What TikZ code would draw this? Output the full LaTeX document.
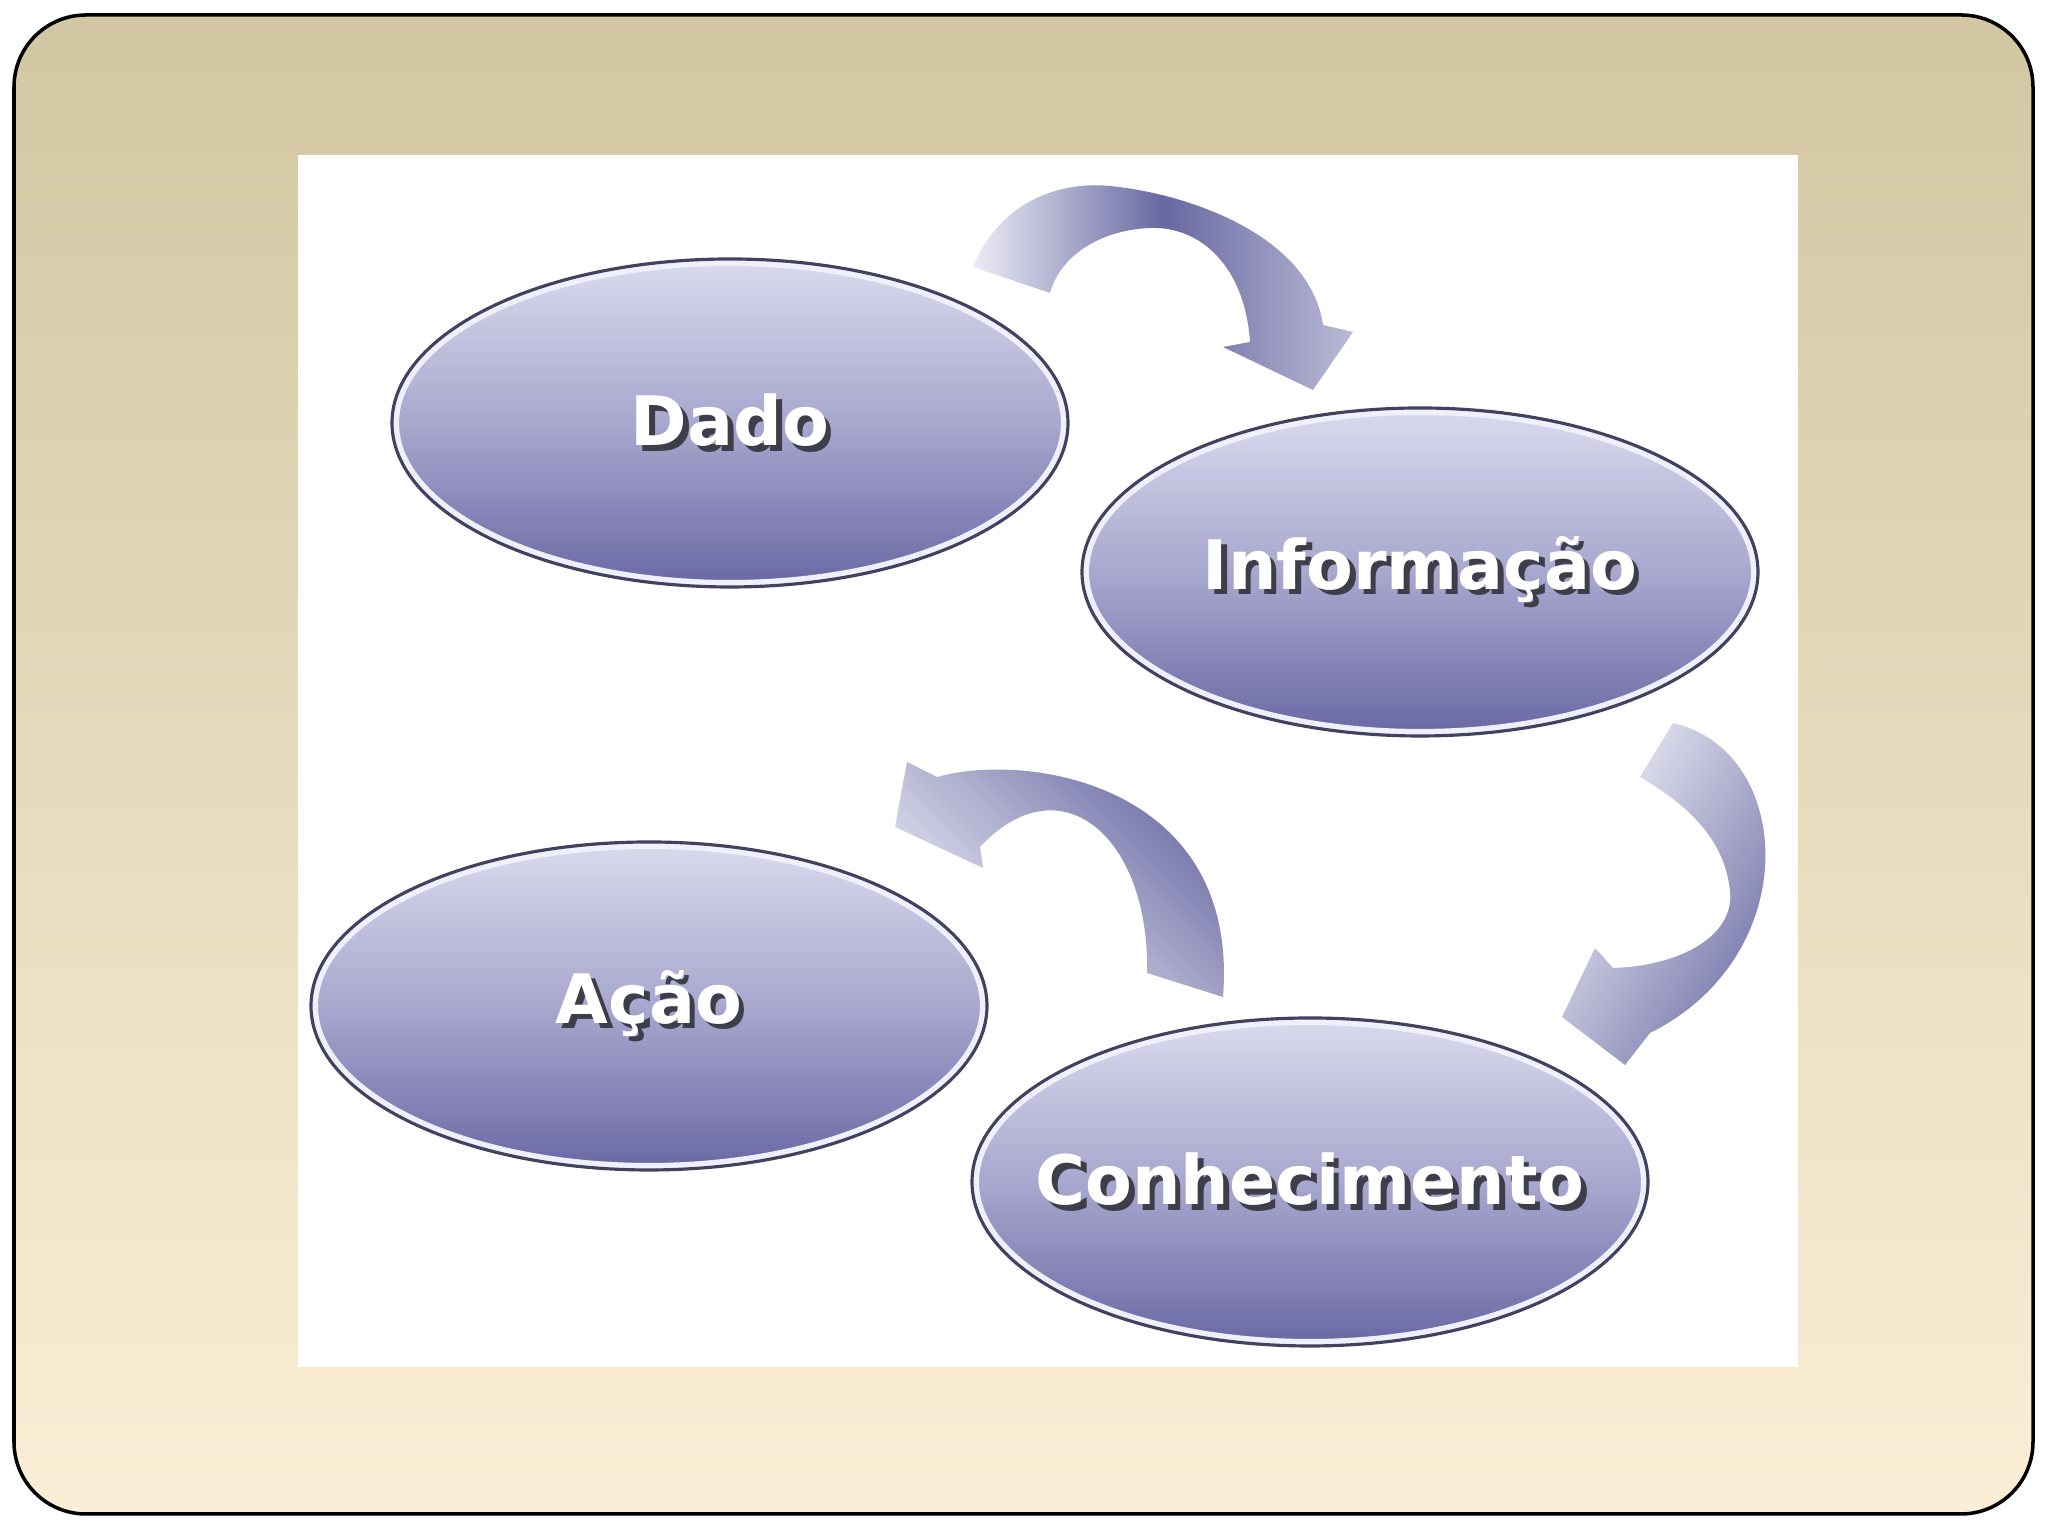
\documentclass[tikz,border=0pt]{standalone}
\usepackage{fontspec}
\setmainfont{DejaVu Sans}
\usetikzlibrary{shapes.geometric}

\definecolor{molduraTopo}{RGB}{211,198,162}
\definecolor{molduraBase}{RGB}{251,238,214}
\definecolor{bolhaClara}{RGB}{218,218,238}
\definecolor{bolhaMeio}{RGB}{168,167,206}
\definecolor{bolhaEscura}{RGB}{106,104,164}
\definecolor{bolhaBorda}{RGB}{66,66,96}
\definecolor{bolhaAnel}{RGB}{240,240,252}
\definecolor{setaEscura}{RGB}{104,104,162}
\definecolor{setaMeia}{RGB}{186,186,214}
\definecolor{setaClara}{RGB}{236,236,246}
\definecolor{sombraTexto}{RGB}{62,62,74}

% texto branco com sombra
\newcommand{\rotulo}[1]{\makebox[0pt]{\rlap{\hspace{1.6pt}\raisebox{-1.6pt}{\textcolor{sombraTexto}{#1}}}#1}}

\tikzset{
  bolha/.style={ellipse, minimum width=6.76cm, minimum height=3.28cm, inner sep=0pt,
    draw=bolhaBorda, line width=0.9pt,
    top color=bolhaClara, bottom color=bolhaEscura, middle color=bolhaMeio,
    path picture={\draw[bolhaAnel, line width=4pt] (path picture bounding box.center) ellipse [x radius=3.38cm, y radius=1.64cm];},
    text=white, font=\fontsize{19.4}{23}\selectfont\bfseries}
}

\begin{document}
\begin{tikzpicture}
        \useasboundingbox (0,0) rectangle (20.48,15.36);

        % moldura
        \draw[line width=1pt, rounded corners=0.72cm, top color=molduraTopo, bottom color=molduraBase] (0.14,0.22) rectangle (20.33,15.21);
        \fill[white] (2.98,1.69) rectangle (17.98,13.81);

        % seta Dado -> Informacao
        \path[left color=setaClara, right color=setaMeia, middle color=setaEscura] (9.73,12.69)
          .. controls (10.0,13.35) and (10.6,13.55) .. (11.10,13.50)
          .. controls (11.9,13.42) and (13.1,13.0) .. (13.23,12.11)
          -- (13.53,12.04) -- (13.13,11.46) -- (12.23,11.89) -- (12.50,11.94)
          .. controls (12.45,12.7) and (12.0,13.1) .. (11.50,13.08)
          .. controls (11.0,13.06) and (10.6,12.8) .. (10.50,12.43) -- cycle;

        % seta Informacao -> Conhecimento
        \path[top color=setaClara, bottom color=setaEscura, shading angle=60] (16.73,8.13)
          .. controls (17.95,7.85) and (18.05,5.8) .. (16.50,5.03)
          -- (16.25,4.71) -- (15.62,5.19) -- (15.95,5.88) -- (16.13,5.68)
          .. controls (16.8,5.7) and (17.35,6.0) .. (17.30,6.45)
          .. controls (17.25,6.95) and (16.9,7.3) .. (16.40,7.59) -- cycle;

        % seta Conhecimento -> Acao
        \path[top color=setaEscura, bottom color=setaClara, shading angle=-45] (12.23,5.39)
          .. controls (12.4,7.5) and (10.3,7.85) .. (9.37,7.59)
          -- (9.07,7.74) -- (8.95,7.09) -- (9.83,6.68) -- (9.80,6.89)
          .. controls (10.6,7.75) and (11.5,7.0) .. (11.47,5.63) -- cycle;

        % bolhas
        \node[bolha] (dado) at (7.30,11.13) {\rotulo{Dado}};
        \node[bolha] (info) at (14.20,9.64) {\rotulo{Informação}};
        \node[bolha] (acao) at (6.49,5.30) {\rotulo{Ação}};
        \node[bolha] (conhec) at (13.10,3.54) {\rotulo{Conhecimento}};
\end{tikzpicture}
\end{document}
